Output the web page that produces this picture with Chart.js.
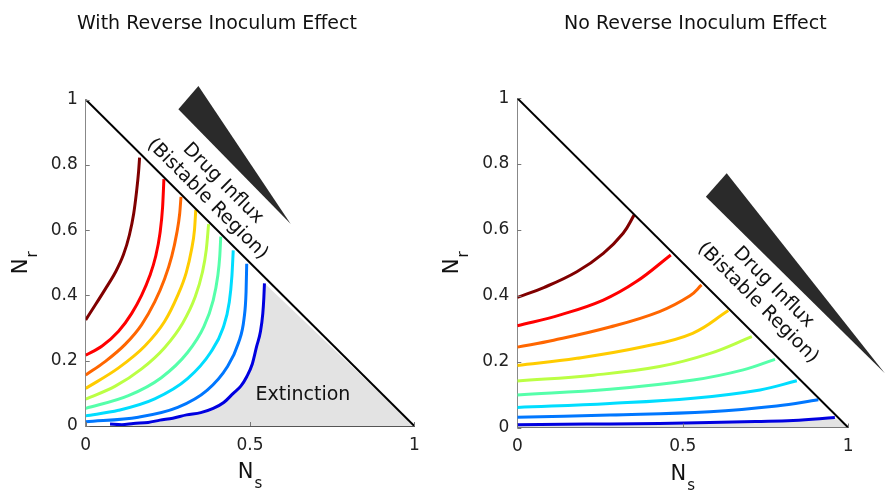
<!DOCTYPE html>
<html>
<head>
<meta charset="utf-8">
<script src="https://cdn.jsdelivr.net/npm/chart.js@4.4.0/dist/chart.umd.min.js"></script>
<style>
  html, body { margin: 0; padding: 0; background: #fff; }
  #wrap { position: relative; width: 885px; height: 491px; overflow: hidden; }
  .panel { position: absolute; top: 0; }
  #left { left: 0; }
  #right { left: 442px; }
</style>
</head>
<body>
<div id="wrap">
  <div class="panel" id="left"><canvas id="chartLeft" width="442" height="491"></canvas></div>
  <div class="panel" id="right"><canvas id="chartRight" width="443" height="491"></canvas></div>
</div>
<script>
// contour levels, low (dark red) to high (dark blue)
const levelColors = ['#800000', '#ff0000', '#ff6600', '#ffcc00', '#bbff44', '#55ffaa', '#00ddff', '#0077ff', '#0000e0'];

// with reverse inoculum effect: N_s / N_r along each contour
const withNs = [
  [0, 0.030, 0.060, 0.090, 0.115, 0.133, 0.146, 0.155, 0.161, 0.164],
  [0, 0.050, 0.100, 0.140, 0.170, 0.195, 0.213, 0.226, 0.234, 0.238],
  [0, 0.060, 0.120, 0.170, 0.210, 0.240, 0.262, 0.277, 0.286, 0.290],
  [0, 0.100, 0.180, 0.240, 0.280, 0.306, 0.322, 0.331, 0.335],
  [0, 0.090, 0.170, 0.240, 0.295, 0.333, 0.355, 0.367, 0.374],
  [0, 0.130, 0.230, 0.310, 0.360, 0.388, 0.402, 0.408, 0.411],
  [0, 0.100, 0.210, 0.310, 0.380, 0.418, 0.437, 0.445, 0.449],
  [0, 0.160, 0.280, 0.370, 0.430, 0.465, 0.482, 0.488, 0.490],
  [0.074, 0.110, 0.145, 0.190, 0.226, 0.265, 0.307, 0.350, 0.388, 0.420, 0.449, 0.472, 0.490, 0.507, 0.520, 0.532, 0.539, 0.542, 0.544]
];
const withNr = [
  [0.325, 0.372, 0.420, 0.470, 0.525, 0.585, 0.650, 0.720, 0.780, 0.822],
  [0.217, 0.245, 0.290, 0.345, 0.400, 0.460, 0.520, 0.590, 0.670, 0.756],
  [0.156, 0.198, 0.250, 0.310, 0.380, 0.450, 0.520, 0.590, 0.650, 0.702],
  [0.115, 0.178, 0.245, 0.320, 0.400, 0.470, 0.540, 0.600, 0.662],
  [0.082, 0.122, 0.175, 0.240, 0.315, 0.395, 0.470, 0.540, 0.618],
  [0.054, 0.093, 0.148, 0.225, 0.305, 0.385, 0.460, 0.520, 0.580],
  [0.031, 0.048, 0.083, 0.145, 0.225, 0.300, 0.380, 0.460, 0.538],
  [0.013, 0.027, 0.057, 0.110, 0.180, 0.255, 0.330, 0.410, 0.497],
  [0.006, 0.004, 0.008, 0.011, 0.018, 0.024, 0.034, 0.041, 0.054, 0.072, 0.100, 0.122, 0.151, 0.190, 0.243, 0.290, 0.345, 0.390, 0.437]
];

// no reverse inoculum effect
const noNs = [
  [0, 0.080, 0.180, 0.260, 0.320, 0.353],
  [0, 0.130, 0.260, 0.360, 0.464],
  [0, 0.110, 0.280, 0.430, 0.522, 0.557],
  [0, 0.180, 0.380, 0.530, 0.638],
  [0, 0.230, 0.430, 0.583, 0.709],
  [0, 0.280, 0.532, 0.683, 0.779],
  [0, 0.280, 0.532, 0.734, 0.845],
  [0, 0.280, 0.582, 0.784, 0.910],
  [0, 0.140, 0.280, 0.430, 0.582, 0.720, 0.834, 0.960]
];
const noNr = [
  [0.395, 0.425, 0.473, 0.529, 0.590, 0.645],
  [0.309, 0.342, 0.387, 0.443, 0.524],
  [0.244, 0.265, 0.305, 0.352, 0.400, 0.433],
  [0.188, 0.210, 0.245, 0.286, 0.355],
  [0.141, 0.159, 0.185, 0.225, 0.276],
  [0.099, 0.116, 0.144, 0.175, 0.207],
  [0.061, 0.073, 0.089, 0.114, 0.142],
  [0.031, 0.038, 0.048, 0.065, 0.084],
  [0.008, 0.010, 0.011, 0.012, 0.015, 0.018, 0.021, 0.030]
];

const nsTicks = [0, 0.5, 1];
const nrTicks = [0, 0.2, 0.4, 0.6, 0.8, 1];

const FONT = '"DejaVu Sans", sans-serif';

function toPoints(xs, ys) {
  return xs.map((x, i) => ({ x: x, y: ys[i] }));
}

function buildDatasets(nsList, nrList, extinctionStart, smooth) {
  const sets = [];
  // simplex edge N_s + N_r = 1
  sets.push({
    data: [{ x: 0, y: 1 }, { x: 1, y: 0 }],
    showLine: true, borderColor: '#000', borderWidth: 2,
    pointRadius: 0, order: 0
  });
  nsList.forEach((xs, i) => {
    sets.push(Object.assign({
      data: toPoints(xs, nrList[i]),
      showLine: true, borderColor: levelColors[i], borderWidth: 3,
      pointRadius: 0, order: 1
    }, smooth));
  });
  // extinction region under the lowest contour
  const k = nsList.length - 1;
  const region = toPoints(nsList[k], nrList[k]);
  region.push({ x: 1, y: 0 }, { x: extinctionStart, y: 0 });
  sets.push({
    data: region,
    showLine: true, borderWidth: 0, borderColor: 'rgba(0,0,0,0)',
    backgroundColor: '#e3e3e3', fill: 'shape',
    pointRadius: 0, tension: 0, order: 2
  });
  return sets;
}

function drawSub(ctx, main, sub, x, y) {
  ctx.font = '21px ' + FONT;
  const w1 = ctx.measureText(main).width;
  ctx.font = '15px ' + FONT;
  const w2 = ctx.measureText(sub).width;
  const start = x - (w1 + w2 + 1) / 2;
  ctx.textAlign = 'left';
  ctx.textBaseline = 'alphabetic';
  ctx.font = '21px ' + FONT;
  ctx.fillText(main, start, y);
  ctx.font = '15px ' + FONT;
  ctx.fillText(sub, start + w1 + 1, y + 10);
}

// titles, axis names, inward ticks, the influx wedge and region notes
const decor = {
  id: 'decor',
  afterDraw(chart, args, o) {
    const { ctx, chartArea: a, scales: { x, y } } = chart;
    ctx.save();

    ctx.strokeStyle = '#777';
    ctx.lineWidth = 1;
    ctx.beginPath();
    nsTicks.forEach(v => {
      const p = Math.round(x.getPixelForValue(v)) + 0.5;
      ctx.moveTo(p, a.bottom); ctx.lineTo(p, a.bottom - 4);
    });
    nrTicks.forEach(v => {
      const p = Math.round(y.getPixelForValue(v)) + 0.5;
      ctx.moveTo(a.left, p); ctx.lineTo(a.left + 4, p);
    });
    ctx.stroke();

    // wedge
    ctx.fillStyle = '#2a2a2a';
    ctx.beginPath();
    o.wedge.forEach((pt, i) => {
      const px = x.getPixelForValue(pt[0]), py = y.getPixelForValue(pt[1]);
      if (i === 0) ctx.moveTo(px, py); else ctx.lineTo(px, py);
    });
    ctx.closePath();
    ctx.fill();

    ctx.fillStyle = '#111';
    // title
    ctx.font = '19px ' + FONT;
    ctx.textAlign = 'left';
    ctx.textBaseline = 'alphabetic';
    ctx.fillText(o.title, o.titleX, 29);

    // rotated influx note
    const cx = x.getPixelForValue(o.influx[0]), cy = y.getPixelForValue(o.influx[1]);
    ctx.save();
    ctx.translate(cx, cy);
    ctx.rotate(Math.PI / 4);
    ctx.font = '19px ' + FONT;
    ctx.textAlign = 'center';
    ctx.textBaseline = 'middle';
    ctx.fillText('Drug Influx', 0, -11);
    ctx.fillText('(Bistable Region)', 0, 11);
    ctx.restore();

    if (o.extinction) {
      ctx.font = '19px ' + FONT;
      ctx.textAlign = 'center';
      ctx.textBaseline = 'middle';
      ctx.fillText('Extinction', x.getPixelForValue(o.extinction[0]), y.getPixelForValue(o.extinction[1]));
    }

    // axis names
    drawSub(ctx, 'N', 's', (a.left + a.right) / 2, a.bottom + 52);
    ctx.save();
    ctx.translate(a.left - 59, (a.top + a.bottom) / 2);
    ctx.rotate(-Math.PI / 2);
    drawSub(ctx, 'N', 'r', 0, 0);
    ctx.restore();

    ctx.restore();
  }
};

const tickFont = { family: 'DejaVu Sans', size: 17 };

function makeChart(id, datasets, layout, decorOpts) {
  return new Chart(document.getElementById(id), {
    type: 'scatter',
    data: { datasets: datasets },
    plugins: [decor],
    options: {
      responsive: false,
      animation: false,
      events: [],
      layout: { padding: { top: layout.top, right: layout.right, left: 0, bottom: 0 } },
      plugins: { legend: { display: false }, tooltip: { enabled: false }, decor: decorOpts },
      scales: {
        x: {
          type: 'linear', min: 0, max: 1,
          afterBuildTicks: s => { s.ticks = nsTicks.map(v => ({ value: v })); },
          ticks: { autoSkip: false, maxRotation: 0, padding: 9, color: '#222', font: tickFont, callback: v => String(v) },
          grid: { display: false, drawTicks: false },
          border: { display: true, color: '#555', width: 1 },
          afterFit: s => { s.height = layout.xh; }
        },
        y: {
          type: 'linear', min: 0, max: 1,
          afterBuildTicks: s => { s.ticks = nrTicks.map(v => ({ value: v })); },
          ticks: { autoSkip: false, padding: 8, color: '#222', font: tickFont, callback: v => String(v) },
          grid: { display: false, drawTicks: false },
          border: { display: true, color: '#888', width: 1 },
          afterFit: s => { s.width = layout.yw; }
        }
      }
    }
  });
}

makeChart('chartLeft', buildDatasets(withNs, withNr, 0.074, { cubicInterpolationMode: 'monotone' }),
  { top: 99.5, right: 27.7, yw: 85.7, xh: 65 },
  {
    title: 'With Reverse Inoculum Effect', titleX: 77,
    wedge: [[0.282, 0.970], [0.343, 1.041], [0.624, 0.619]],
    influx: [0.394, 0.719],
    extinction: [0.661, 0.095]
  });

makeChart('chartRight', buildDatasets(noNs, noNr, 0, { tension: 0.4 }),
  { top: 98.2, right: 36.9, yw: 75.3, xh: 63.5 },
  {
    title: 'No Reverse Inoculum Effect', titleX: 122,
    wedge: [[0.570, 0.701], [0.633, 0.772], [1.111, 0.165]],
    influx: [0.751, 0.402],
    extinction: null
  });
</script>
</body>
</html>
